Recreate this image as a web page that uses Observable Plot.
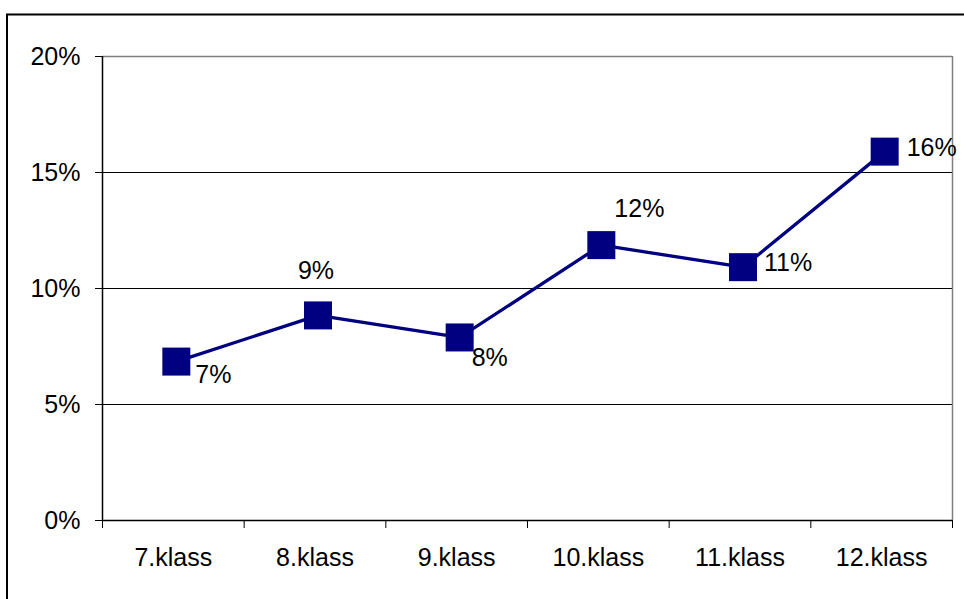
<!DOCTYPE html>
<html>
<head>
<meta charset="utf-8">
<script src="https://cdn.jsdelivr.net/npm/d3@7"></script>
<script src="https://cdn.jsdelivr.net/npm/@observablehq/plot@0.6"></script>
<style>
  html, body { margin: 0; padding: 0; background: #fff; }
  #chart { width: 964px; height: 599px; overflow: hidden; }
</style>
</head>
<body>
<div id="chart"></div>
<script>
// ---- data ----
const categories = ["7.klass", "8.klass", "9.klass", "10.klass", "11.klass", "12.klass"];
const values = [0.0685, 0.0884, 0.0789, 0.1187, 0.1092, 0.159];
const valueLabels = ["7%", "9%", "8%", "12%", "11%", "16%"];
const yTicks = [0, 0.05, 0.1, 0.15, 0.2];

// ---- label placement (style) ----
const markerShift = 3;
const labelPlacement = [
  {dx: 19, dy: 13, anchor: "start"},
  {dx: -2, dy: -44, anchor: "middle"},
  {dx: 12, dy: 21, anchor: "start"},
  {dx: 13, dy: -36, anchor: "start"},
  {dx: 21, dy: -4, anchor: "start"},
  {dx: 22, dy: -4, anchor: "start"}
];

const data = categories.map((c, i) => ({pos: i + 0.5, cat: c, v: values[i], label: valueLabels[i]}));
const centers = categories.map((c, i) => i + 0.5);
const bounds = d3.range(categories.length + 1);

const navy = "#000080";
const fs = 25;

const plot = Plot.plot({
  width: 964,
  height: 599,
  marginLeft: 102,
  marginRight: 12,
  marginTop: 56,
  marginBottom: 79,
  style: {fontFamily: "'Liberation Sans', Arial, sans-serif", fontSize: fs + "px", background: "#fff", color: "#000"},
  x: {type: "linear", domain: [0, categories.length]},
  y: {domain: [0, 0.2]},
  marks: [
    Plot.gridY([0.05, 0.1, 0.15], {stroke: "#000", strokeOpacity: 1, strokeWidth: 1}),
    Plot.ruleY([0.2], {stroke: "#808080", strokeWidth: 1.5}),
    Plot.ruleX([categories.length], {stroke: "#808080", strokeWidth: 1.5}),
    Plot.ruleX([0], {stroke: "#000", strokeWidth: 1.5}),
    Plot.ruleY([0], {stroke: "#000", strokeWidth: 1.5}),
    Plot.axisY(yTicks, {tickSize: 7, tickPadding: 15, tickFormat: d3.format(".0%"), label: null, fontSize: fs, stroke: "#000"}),
    Plot.axisX(bounds, {tickSize: 8, tickFormat: () => "", label: null, stroke: "#000"}),
    Plot.axisX(centers, {tickSize: 0, tickPadding: 28, tickFormat: d => categories[Math.floor(d)], label: null, fontSize: fs}),
    Plot.line(data, {x: "pos", y: "v", dx: markerShift, stroke: navy, strokeWidth: 3.3}),
    Plot.dot(data, {x: "pos", y: "v", dx: markerShift, symbol: "square", r: 15.8, fill: navy, stroke: "none"}),
    ...data.map((d, i) => Plot.text([d], {
      x: "pos", y: "v", text: "label",
      dx: labelPlacement[i].dx + markerShift, dy: labelPlacement[i].dy,
      textAnchor: labelPlacement[i].anchor,
      fontSize: fs, fill: "#000"
    }))
  ]
});

d3.select(plot).append("rect")
  .attr("x", 7).attr("y", 14.5)
  .attr("width", 1000).attr("height", 700)
  .attr("fill", "none").attr("stroke", "#000").attr("stroke-width", 2);

document.getElementById("chart").appendChild(plot);
</script>
</body>
</html>
